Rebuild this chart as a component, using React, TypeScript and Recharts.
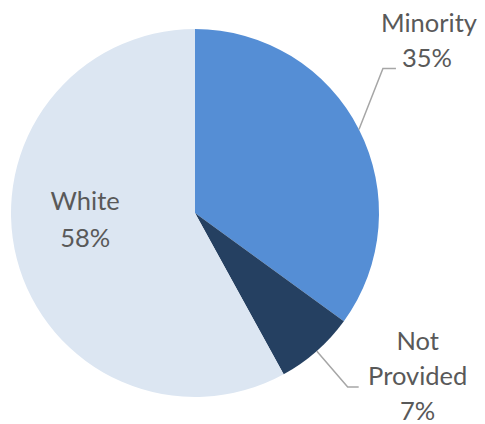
import React from 'react';
import { PieChart, Pie, Cell } from 'recharts';

const categories = ['Minority', 'Not Provided', 'White'];
const values = [35, 7, 58];
const colors = ['#558ED5', '#254061', '#DCE6F2'];
const labelLines = [['Minority', '35%'], ['Not', 'Provided', '7%'], ['White', '58%']];

const data = categories.map((name, i) => ({ name, value: values[i] }));

const RAD = Math.PI / 180;
const FONT = 'Lato, "Open Sans", sans-serif';
const TEXT = '#595959';

const renderLabel = (props: any) => {
  const { cx, cy, midAngle, outerRadius, index } = props;
  const ex = cx + outerRadius * Math.cos(-midAngle * RAD);
  const ey = cy + outerRadius * Math.sin(-midAngle * RAD);
  const lines = labelLines[index];
  const fs = 25.5;
  if (index === 0) {
    const bx = ex + 24, by = ey - 61;
    const hx = bx + 13;
    return (
      <g>
        <polyline points={`${ex},${ey} ${bx},${by} ${hx},${by}`} fill="none" stroke="#A6A6A6" strokeWidth={1.5} />
        <text x={hx + 33} y={by - 46} fill={TEXT} fontSize={fs} fontFamily={FONT} textAnchor="middle" dominantBaseline="central">{lines[0]}</text>
        <text x={hx + 31} y={by - 11} fill={TEXT} fontSize={fs} fontFamily={FONT} textAnchor="middle" dominantBaseline="central">{lines[1]}</text>
      </g>
    );
  }
  if (index === 1) {
    const bx = ex + 31, by = ey + 36;
    const hx = bx + 11;
    return (
      <g>
        <polyline points={`${ex},${ey} ${bx},${by} ${hx},${by}`} fill="none" stroke="#A6A6A6" strokeWidth={1.5} />
        {lines.map((t, i) => (
          <text key={i} x={hx + 59} y={by - 47 + i * 35} fill={TEXT} fontSize={fs} fontFamily={FONT} textAnchor="middle" dominantBaseline="central">{t}</text>
        ))}
      </g>
    );
  }
  const lx = cx - outerRadius * 0.597;
  const ly = cy;
  return (
    <g>
      <text x={lx} y={ly - 13} fill={TEXT} fontSize={fs} fontFamily={FONT} textAnchor="middle" dominantBaseline="central">{lines[0]}</text>
      <text x={lx} y={ly + 24} fill={TEXT} fontSize={fs} fontFamily={FONT} textAnchor="middle" dominantBaseline="central">{lines[1]}</text>
    </g>
  );
};

export default function App() {
  return (
    <div style={{ position: 'absolute', left: 0, top: 0, background: '#fff' }}>
      <PieChart width={485} height={424} margin={{ top: 0, right: 0, bottom: 0, left: 0 }}>
        <Pie
          data={data}
          dataKey="value"
          nameKey="name"
          cx={195}
          cy={213}
          outerRadius={184}
          startAngle={90}
          endAngle={-270}
          stroke="none"
          label={renderLabel}
          labelLine={false}
          isAnimationActive={false}
        >
          {data.map((d, i) => (
            <Cell key={d.name} fill={colors[i]} />
          ))}
        </Pie>
      </PieChart>
    </div>
  );
}
